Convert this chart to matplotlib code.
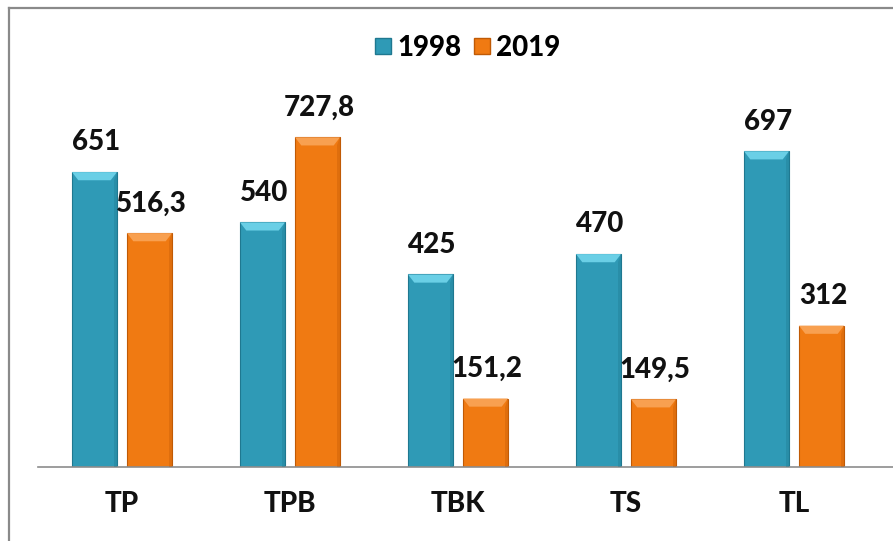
import numpy as np
import matplotlib.pyplot as plt
from matplotlib.patches import Polygon, Rectangle
from matplotlib.lines import Line2D

plt.rcParams["font.family"] = ["Lato", "DejaVu Sans"]
plt.rcParams["font.weight"] = "black"

categories = ["TP", "TPB", "TBK", "TS", "TL"]
series_names = ["1998", "2019"]
values_1998 = [651, 540, 425, 470, 697]
values_2019 = [516.3, 727.8, 151.2, 149.5, 312]

colors = {"1998": ("#2F9AB6", "#6ACFE6", "#1F7890"),
          "2019": ("#F07A12", "#F8A050", "#C05A05")}


def fmt(v):
    s = f"{v:g}"
    return s.replace(".", ",")


def bevel_bar(ax, x, w, h, face, light, dark):
    ax.add_patch(Rectangle((x - w / 2, 0), w, h, facecolor=face,
                           edgecolor=dark, linewidth=0.8, zorder=2))
    bh = min(18, h * 0.3)
    inset = w * 0.14
    top = Polygon([(x - w / 2, h), (x + w / 2, h),
                   (x + w / 2 - inset, h - bh), (x - w / 2 + inset, h - bh)],
                  closed=True, facecolor=light, edgecolor="none", zorder=3)
    ax.add_patch(top)
    # darker side shading
    ax.add_patch(Polygon([(x + w / 2, h), (x + w / 2, 0),
                          (x + w / 2 - inset * 0.5, 0),
                          (x + w / 2 - inset * 0.5, h - bh)],
                         closed=True, facecolor=dark, alpha=0.35,
                         edgecolor="none", zorder=3))


fig = plt.figure(figsize=(8.93, 5.41), dpi=100)
ax = fig.add_axes([38 / 893, (541 - 467) / 541, (893 - 38) / 893, (467 - 80) / 541])

x = np.arange(len(categories))
w = 45 / 168
off = 27.5 / 168
for vals, name, dx in [(values_1998, "1998", -off), (values_2019, "2019", off)]:
    face, light, dark = colors[name]
    for xi, v in zip(x, vals):
        bevel_bar(ax, xi + dx, w, v, face, light, dark)
        ax.annotate(fmt(v), (xi + dx, v), xytext=(1, 12), textcoords="offset points",
                    ha="center", va="bottom", fontsize=20, fontweight="black",
                    color="#111111")

ax.set_xlim(-0.5, 4.5 + 15 / 168)
ax.set_ylim(0, (467 - 80) / 0.453)
for s in ["top", "right", "left"]:
    ax.spines[s].set_visible(False)
ax.spines["bottom"].set_color("#8C8C8C")
ax.spines["bottom"].set_linewidth(1.2)
ax.set_yticks([])
ax.set_xticks(x)
ax.set_xticklabels(categories, fontsize=20, fontweight="black", color="#111111")
ax.tick_params(axis="x", length=0, pad=17)

handles = [Line2D([], [], marker="s", linestyle="none", markersize=11,
                  markerfacecolor=colors[n][0], markeredgecolor=colors[n][2])
           for n in series_names]
fig.legend(handles, series_names, loc="center", bbox_to_anchor=(465 / 893, 1 - 48 / 541),
           ncol=2, frameon=False, handletextpad=0.0, columnspacing=0.25,
           handlelength=1.0, prop={"weight": "black", "size": 20})

# chart border (top and left visible)
fig.add_artist(Line2D([9 / 893, 9 / 893], [0, 1 - 8 / 541], color="#8A8A8A", linewidth=1.6))
fig.add_artist(Line2D([9 / 893, 1], [1 - 8 / 541, 1 - 8 / 541], color="#8A8A8A", linewidth=1.6))

fig.savefig("out.png", dpi=100)
